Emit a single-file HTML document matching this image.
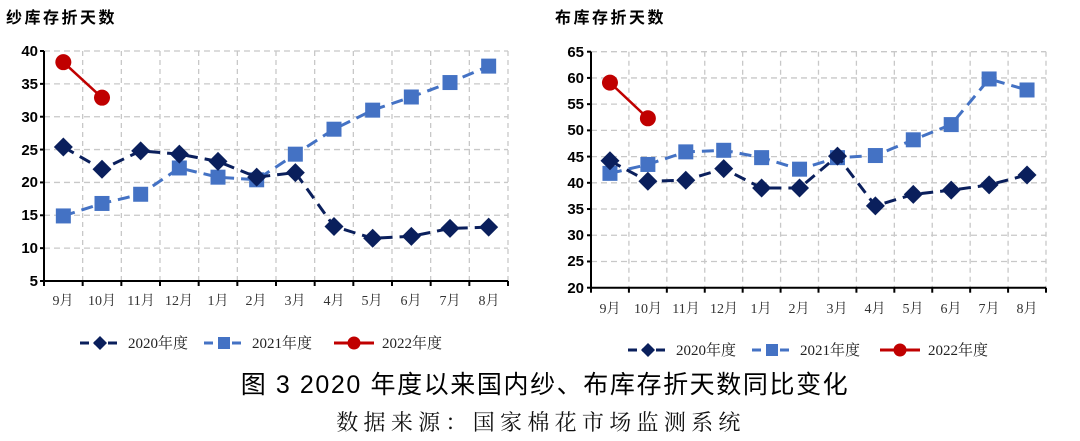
<!DOCTYPE html>
<html><head><meta charset="utf-8"><style>
body{margin:0;background:#fff;width:1080px;height:441px;overflow:hidden}
svg{display:block;font-family:"Liberation Sans","Noto Sans CJK SC",sans-serif}
.t{font-weight:bold;font-size:16px;fill:#000;letter-spacing:2.5px}
.yl{font-weight:bold;font-size:15px;fill:#000;text-anchor:end}
.xl{font-family:"Liberation Serif","Noto Serif CJK SC",serif;font-size:14px;fill:#333;text-anchor:middle}
.lg{font-family:"Liberation Serif","Noto Serif CJK SC",serif;font-size:15px;fill:#222}
</style></head><body>
<svg id="s" width="1080" height="441" viewBox="0 0 1080 441">
<text class="t" x="6" y="23">纱库存折天数</text>
<text class="t" x="555" y="23">布库存折天数</text>
<g id="g"></g>
<g>
<text class="yl" x="38" y="56">40</text><text class="yl" x="38" y="89">35</text><text class="yl" x="38" y="122">30</text><text class="yl" x="38" y="155">25</text><text class="yl" x="38" y="187">20</text><text class="yl" x="38" y="220">15</text><text class="yl" x="38" y="253">10</text><text class="yl" x="38" y="286">5</text>
<text class="yl" x="584" y="57">65</text><text class="yl" x="584" y="83">60</text><text class="yl" x="584" y="109">55</text><text class="yl" x="584" y="135">50</text><text class="yl" x="584" y="162">45</text><text class="yl" x="584" y="188">40</text><text class="yl" x="584" y="214">35</text><text class="yl" x="584" y="240">30</text><text class="yl" x="584" y="266">25</text><text class="yl" x="584" y="293">20</text>
</g>
<g>
<text class="xl" x="63" y="305">9月</text><text class="xl" x="102" y="305">10月</text><text class="xl" x="141" y="305">11月</text><text class="xl" x="179" y="305">12月</text><text class="xl" x="218" y="305">1月</text><text class="xl" x="256" y="305">2月</text><text class="xl" x="295" y="305">3月</text><text class="xl" x="334" y="305">4月</text><text class="xl" x="372" y="305">5月</text><text class="xl" x="411" y="305">6月</text><text class="xl" x="450" y="305">7月</text><text class="xl" x="489" y="305">8月</text>
<text class="xl" x="610" y="313">9月</text><text class="xl" x="648" y="313">10月</text><text class="xl" x="686" y="313">11月</text><text class="xl" x="724" y="313">12月</text><text class="xl" x="761" y="313">1月</text><text class="xl" x="799" y="313">2月</text><text class="xl" x="837" y="313">3月</text><text class="xl" x="875" y="313">4月</text><text class="xl" x="913" y="313">5月</text><text class="xl" x="951" y="313">6月</text><text class="xl" x="989" y="313">7月</text><text class="xl" x="1027" y="313">8月</text>
</g>
<g>
<text class="lg" x="128" y="348">2020年度</text><text class="lg" x="252" y="348">2021年度</text><text class="lg" x="382" y="348">2022年度</text>
<text class="lg" x="676" y="355">2020年度</text><text class="lg" x="800" y="355">2021年度</text><text class="lg" x="928" y="355">2022年度</text>
</g>
<text x="545" y="393" text-anchor="middle" style="font-size:25px;fill:#000;letter-spacing:1.6px">图 3 2020 年度以来国内纱、布库存折天数同比变化</text>
<text x="541" y="430" text-anchor="middle" style="font-family:'Liberation Serif','Noto Serif CJK SC',serif;font-size:22px;fill:#111;letter-spacing:5.3px">数据来源：国家棉花市场监测系统</text>
</svg>
<script>
var NS="http://www.w3.org/2000/svg",G=document.getElementById("g");
function el(n,a){var e=document.createElementNS(NS,n);for(var k in a)e.setAttribute(k,a[k]);G.appendChild(e);return e;}
function chart(x0,x1,yTop,yBot,vmin,vmax,step,d20,d21,d22){
  var cw=(x1-x0)/12,Y=function(v){return yBot-(v-vmin)/(vmax-vmin)*(yBot-yTop)},X=function(i){return x0+cw*(i+.5)};
  for(var v=vmin+step;v<=vmax;v+=step)el("line",{x1:x0,x2:x1,y1:Y(v),y2:Y(v),stroke:"#c8c8c8","stroke-dasharray":"6,4","stroke-width":1.3});
  for(var i=1;i<=12;i++)el("line",{x1:x0+cw*i,x2:x0+cw*i,y1:yTop,y2:yBot,stroke:"#c8c8c8","stroke-dasharray":"5,4","stroke-width":1.3});
  el("line",{x1:x0,x2:x0,y1:yTop,y2:yBot+1,stroke:"#000","stroke-width":2});
  el("line",{x1:x0,x2:x1,y1:yBot,y2:yBot,stroke:"#000","stroke-width":2});
  for(var v=vmin;v<=vmax;v+=step)el("line",{x1:x0-4,x2:x0,y1:Y(v),y2:Y(v),stroke:"#000","stroke-width":2});
  for(var i=0;i<=12;i++)el("line",{x1:x0+cw*i,x2:x0+cw*i,y1:yBot,y2:yBot+5,stroke:"#000","stroke-width":2});
  function pts(d){return d.map(function(v,i){return X(i)+","+Y(v)}).join(" ")}
  el("polyline",{points:pts(d21),fill:"none",stroke:"#4472c4","stroke-width":3,"stroke-dasharray":"12,7"});
  d21.forEach(function(v,i){el("rect",{x:X(i)-7.5,y:Y(v)-7.5,width:15,height:15,fill:"#4472c4"})});
  el("polyline",{points:pts(d20),fill:"none",stroke:"#0a1f5c","stroke-width":3,"stroke-dasharray":"12,7"});
  d20.forEach(function(v,i){var x=X(i),y=Y(v);el("polygon",{points:(x)+","+(y-9.5)+" "+(x+9.5)+","+y+" "+x+","+(y+9.5)+" "+(x-9.5)+","+y,fill:"#0a1f5c"})});
  el("polyline",{points:pts(d22),fill:"none",stroke:"#c00000","stroke-width":2.5});
  d22.forEach(function(v,i){el("circle",{cx:X(i),cy:Y(v),r:8,fill:"#c00000"})});
}
chart(44,508,51,281,5,40,5,[25.4,22,24.8,24.3,23.2,20.8,21.5,13.3,11.5,11.8,13,13.2],[14.9,16.8,18.2,22.2,20.8,20.4,24.3,28.1,31,33,35.2,37.7],[38.3,32.9]);
chart(591,1046,51.7,287.7,20,65,5,[44.2,40.3,40.5,42.7,39,39,45.1,35.6,37.8,38.6,39.6,41.5],[41.8,43.5,45.9,46.2,44.8,42.6,44.8,45.2,48.2,51.1,59.8,57.7],[59.1,52.3]);
function leg(x,y,type){
  var c=type==0?"#0a1f5c":type==1?"#4472c4":"#c00000";
  el("line",{x1:x,x2:x+40,y1:y,y2:y,stroke:c,"stroke-width":3,"stroke-dasharray":type==2?"":"9,5"});
  var m=x+20;
  if(type==0)el("polygon",{points:m+","+(y-7)+" "+(m+7)+","+y+" "+m+","+(y+7)+" "+(m-7)+","+y,fill:c});
  else if(type==1)el("rect",{x:m-6,y:y-6,width:12,height:12,fill:c});
  else el("circle",{cx:m,cy:y,r:6.5,fill:c});
}
leg(80,343,0);leg(204,343,1);leg(334,343,2);
leg(628,350,0);leg(752,350,1);leg(880,350,2);
</script>
</body></html>
